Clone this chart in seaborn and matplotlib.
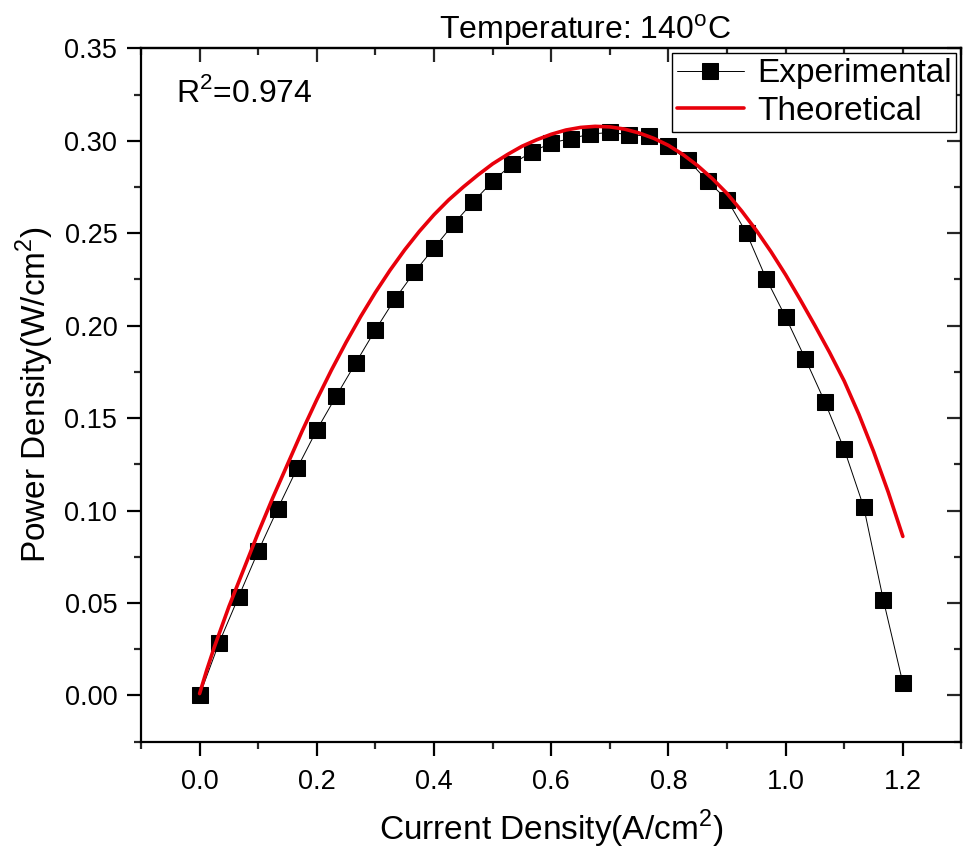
import numpy as np
import pandas as pd
import matplotlib
matplotlib.use("Agg")
import matplotlib.pyplot as plt
from matplotlib.ticker import MultipleLocator
import seaborn as sns

# experimental points (current density A/cm2, power density W/cm2)
exp_current = [i / 30 for i in range(37)]
exp_power = [0.000, 0.0285, 0.0534, 0.078, 0.101, 0.123, 0.1436, 0.162, 0.180,
             0.1977, 0.2144, 0.229, 0.242, 0.255, 0.2669, 0.278, 0.2874, 0.2939,
             0.2988, 0.3012, 0.3036, 0.3045, 0.3033, 0.3025, 0.2970, 0.2896,
             0.2782, 0.2682, 0.250, 0.2255, 0.2046, 0.1822, 0.1589, 0.1331,
             0.1018, 0.0517, 0.0067]

# theoretical curve
theo_current = [0.0, 0.0125, 0.025, 0.0375, 0.05, 0.075, 0.1, 0.125, 0.15, 0.175,
                0.2, 0.225, 0.25, 0.275, 0.3, 0.325, 0.35, 0.375, 0.4, 0.425,
                0.45, 0.475, 0.5, 0.525, 0.55, 0.575, 0.6, 0.625, 0.65, 0.675,
                0.7, 0.725, 0.75, 0.775, 0.8, 0.825, 0.85, 0.875, 0.9, 0.925,
                0.95, 0.975, 1.0, 1.025, 1.05, 1.075, 1.1, 1.125, 1.15, 1.175,
                1.2]
theo_power = [0.001, 0.014, 0.026, 0.037, 0.048, 0.068, 0.088, 0.107, 0.125,
              0.143, 0.160, 0.176, 0.191, 0.205, 0.218, 0.230, 0.241, 0.251,
              0.260, 0.268, 0.275, 0.2815, 0.2875, 0.2925, 0.297, 0.3005,
              0.3035, 0.3058, 0.3072, 0.3078, 0.3075, 0.3063, 0.3042, 0.3013,
              0.2975, 0.2925, 0.2865, 0.2795, 0.2715, 0.262, 0.2515, 0.240,
              0.2275, 0.214, 0.200, 0.1855, 0.170, 0.152, 0.132, 0.110, 0.086]

exp_df = pd.DataFrame({"current": exp_current, "power": exp_power})
theo_df = pd.DataFrame({"current": theo_current, "power": theo_power})

sns.set_style("ticks")
plt.rcParams["font.family"] = ["Liberation Sans", "DejaVu Sans"]
plt.rcParams["mathtext.fontset"] = "custom"
plt.rcParams["mathtext.rm"] = "Liberation Sans"
plt.rcParams["text.color"] = "black"
plt.rcParams["axes.labelcolor"] = "black"

fig = plt.figure(figsize=(9.63, 8.52), dpi=100)
ax = fig.add_axes([0.1464, 0.1295, 0.852, 0.8138])

sns.lineplot(data=exp_df, x="current", y="power", ax=ax, color="black",
             linewidth=0.7, marker="s", markersize=11, markeredgecolor="black",
             label="Experimental", sort=False)
sns.lineplot(data=theo_df, x="current", y="power", ax=ax, color="#e8000b",
             linewidth=2.6, label="Theoretical", sort=False)

ax.set_xlim(-0.1, 1.3)
ax.set_ylim(-0.025, 0.35)
ax.xaxis.set_major_locator(MultipleLocator(0.2))
ax.xaxis.set_minor_locator(MultipleLocator(0.1))
ax.yaxis.set_major_locator(MultipleLocator(0.05))
ax.yaxis.set_minor_locator(MultipleLocator(0.025))
ax.set_xticks([0.0, 0.2, 0.4, 0.6, 0.8, 1.0, 1.2])
ax.set_yticks([0.0, 0.05, 0.10, 0.15, 0.20, 0.25, 0.30, 0.35])
ax.set_yticklabels(["0.00", "0.05", "0.10", "0.15", "0.20", "0.25", "0.30", "0.35"])

for s in ax.spines.values():
    s.set_visible(True)
    s.set_linewidth(1.6)
    s.set_color("black")

ax.tick_params(which="major", direction="out", length=10, width=1.6,
               labelsize=19.5, pad=7, colors="black")
ax.tick_params(axis="x", which="major", pad=10)
ax.tick_params(which="minor", direction="out", length=5, width=1.6)

# mirrored ticks on top and right, pointing into the plot
top = ax.secondary_xaxis("top")
top.xaxis.set_major_locator(MultipleLocator(0.2))
top.xaxis.set_minor_locator(MultipleLocator(0.1))
top.tick_params(which="major", direction="in", length=10, width=1.6, labeltop=False)
top.tick_params(which="minor", direction="in", length=5, width=1.6)
top.spines["top"].set_linewidth(1.6)
right = ax.secondary_yaxis("right")
right.yaxis.set_major_locator(MultipleLocator(0.05))
right.yaxis.set_minor_locator(MultipleLocator(0.025))
right.tick_params(which="major", direction="in", length=10, width=1.6, labelright=False)
right.tick_params(which="minor", direction="in", length=5, width=1.6)
right.spines["right"].set_linewidth(1.6)

ax.set_xlabel("Current Density(A/cm$^2$)", fontsize=24, labelpad=9)
ax.set_ylabel("Power Density(W/cm$^2$)", fontsize=24, labelpad=6)
ax.set_title("Temperature: 140$^{\\mathrm{o}}$C", fontsize=23, x=0.541, pad=3)

ax.text(0.043, 0.935, "R$^2$=0.974", transform=ax.transAxes, fontsize=23,
        va="center", ha="left")

leg = ax.legend(loc="upper right", fontsize=24, frameon=True, fancybox=False,
                borderaxespad=0.15, handlelength=2.0, handletextpad=0.4,
                borderpad=0.15, labelspacing=0.2, framealpha=1)
leg.get_frame().set_edgecolor("black")
leg.get_frame().set_linewidth(1.0)

fig.savefig("out.png", dpi=100)
